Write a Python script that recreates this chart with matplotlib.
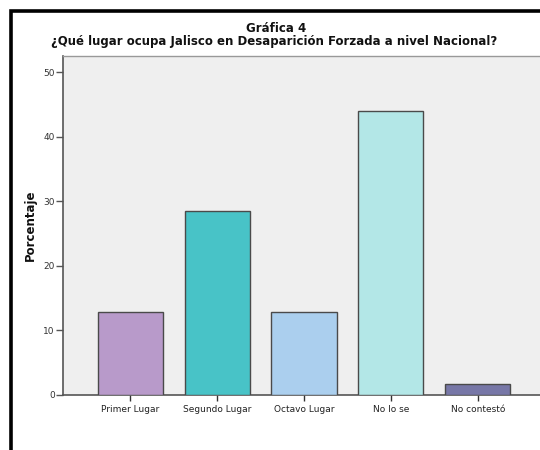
import matplotlib
matplotlib.use("Agg")
import matplotlib.pyplot as plt
from matplotlib.patches import Rectangle

categories = ["Primer Lugar", "Segundo Lugar", "Octavo Lugar", "No lo se", "No contestó"]
porcentaje = [12.9, 28.5, 12.9, 44.0, 1.7]
colores = ["#B89ACA", "#48C3C7", "#ABCFEE", "#B3E7E7", "#7777A7"]
yticks = [0, 10, 20, 30, 40, 50]

W, H = 540, 450
fig = plt.figure(figsize=(W / 100, H / 100), dpi=100)
fig.patch.set_facecolor("white")

# outer frame (runs off the right and bottom edges)
fig.patches.append(Rectangle((11 / W, -0.1), 1.2, 1 - 11 / H + 0.1,
                             transform=fig.transFigure, fill=False,
                             edgecolor="black", linewidth=2.6, zorder=0))

left, right, top, bottom = 63, 545, 56, 395
ax = fig.add_axes([left / W, 1 - bottom / H, (right - left) / W, (bottom - top) / H])
ax.set_facecolor("#EFEFEF")

x = list(range(len(categories)))
ax.bar(x, porcentaje, width=0.75, color=colores, edgecolor="#4a4a4a", linewidth=1.0, zorder=3)

ax.set_xlim(-0.774, len(categories) - 1 + 0.774)
ax.set_ylim(0, 52.5)
ax.set_yticks(yticks)
ax.set_yticklabels([str(v) for v in yticks])
ax.set_xticks(x)
ax.set_xticklabels(categories)

ax.tick_params(axis="y", length=5, width=1, color="#555555", labelsize=6.5,
               labelcolor="#333333", pad=1)
ax.tick_params(axis="x", length=4, width=1, color="#333333", labelsize=6.5,
               labelcolor="#222222", pad=3)

for side in ["left", "bottom"]:
    ax.spines[side].set_color("#555555")
    ax.spines[side].set_linewidth(1.2)
ax.spines["top"].set_color("#999999")
ax.spines["top"].set_linewidth(1.0)
ax.spines["right"].set_visible(False)

fig.text(30 / W, 1 - 225 / H, "Porcentaje", rotation=90, ha="center", va="center",
         fontsize=8.5, fontweight="bold", color="#111111")

fig.text(276 / W, 1 - 28 / H, "Gráfica 4", ha="center", va="center",
         fontsize=8.5, fontweight="bold", color="#111111")
fig.text(274 / W, 1 - 41 / H, "¿Qué lugar ocupa Jalisco en Desaparición Forzada a nivel Nacional?",
         ha="center", va="center", fontsize=8.5, fontweight="bold", color="#111111")

fig.savefig("out.png", dpi=100)
